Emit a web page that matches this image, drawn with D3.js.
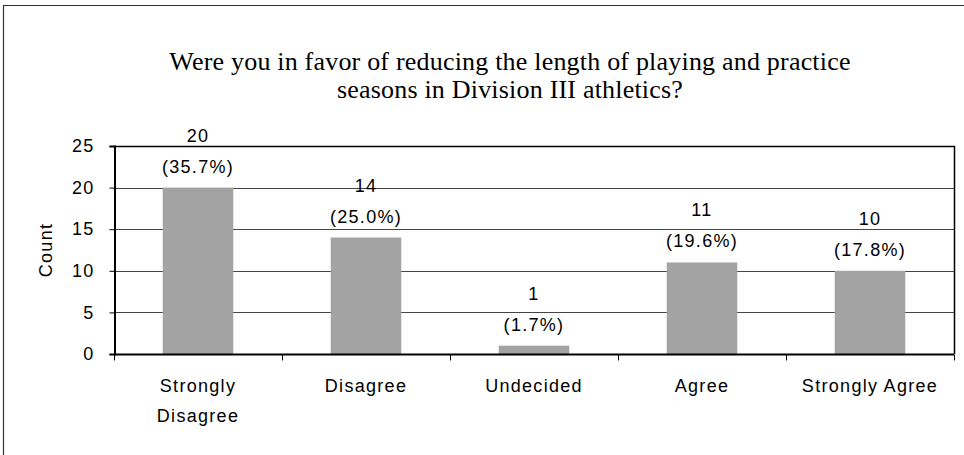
<!DOCTYPE html>
<html>
<head>
<meta charset="utf-8">
<script src="https://cdn.jsdelivr.net/npm/d3@7"></script>
<style>
  body { margin: 0; background: #fff; }
  text { font-family: "Liberation Sans", Arial, sans-serif; fill: #000; }
</style>
</head>
<body>
<script>
// data
const categories = ['Strongly Disagree', 'Disagree', 'Undecided', 'Agree', 'Strongly Agree'];
const counts = [20, 14, 1, 11, 10];
const percents = ['(35.7%)', '(25.0%)', '(1.7%)', '(19.6%)', '(17.8%)'];
const yTicks = [0, 5, 10, 15, 20, 25];
const titleLines = ['Were you in favor of reducing the length of playing and practice',
                    'seasons in Division III athletics?'];

const W = 964, H = 455;
const margin = {top: 146, right: 10, bottom: 101, left: 114};
const labelFont = '18px';
const labelSpacing = '1.3px';

const svg = d3.select('body').append('svg')
    .attr('width', W)
    .attr('height', H);

// scanned page frame
svg.append('path')
    .attr('d', `M3.5,${H} V5.5 H${W}`)
    .attr('fill', 'none')
    .attr('stroke', '#333')
    .attr('stroke-width', 1.2);

const x = d3.scaleBand()
    .domain(categories)
    .range([margin.left, W - margin.right])
    .paddingInner(0.58)
    .paddingOuter(0.29);

const y = d3.scaleLinear()
    .domain([0, 25])
    .range([H - margin.bottom, margin.top]);

// title
svg.append('g').selectAll('text')
    .data(titleLines)
    .enter()
  .append('text')
    .attr('x', 510)
    .attr('y', (d, i) => 70 + i * 28)
    .attr('text-anchor', 'middle')
    .style('font-family', '"Liberation Serif", "Times New Roman", serif')
    .style('font-size', '26px')
    .style('letter-spacing', '0.2px')
    .text(d => d);

// gridlines
svg.append('g').selectAll('line')
    .data(yTicks.filter(t => t > 0 && t < 25))
    .enter()
  .append('line')
    .attr('x1', margin.left)
    .attr('x2', W - margin.right)
    .attr('y1', d => Math.round(y(d)) + 0.5)
    .attr('y2', d => Math.round(y(d)) + 0.5)
    .attr('stroke', '#444')
    .attr('stroke-width', 1);

// plot area border (top + right)
svg.append('path')
    .attr('d', `M${margin.left},${y(25) + 0.5} H${W - margin.right + 0.5} V${y(0)}`)
    .attr('fill', 'none')
    .attr('stroke', '#000')
    .attr('stroke-width', 1.5);

// bars
svg.append('g').selectAll('rect')
    .data(counts)
    .enter()
  .append('rect')
    .attr('x', (d, i) => x(categories[i]))
    .attr('y', d => y(d))
    .attr('width', x.bandwidth())
    .attr('height', d => y(0) - y(d))
    .attr('fill', '#a3a3a3');

// y axis
const yAxis = svg.append('g')
    .attr('transform', `translate(${margin.left + 0.5},0)`)
    .call(d3.axisLeft(y).tickValues(yTicks).tickSize(5).tickPadding(15));
yAxis.selectAll('text')
    .style('font-size', labelFont)
    .style('letter-spacing', labelSpacing)
    .style('font-family', '"Liberation Sans", Arial, sans-serif');
yAxis.select('path').attr('stroke', '#000').attr('stroke-width', 2);
yAxis.selectAll('line').attr('stroke', '#000');

// x axis: ticks at category boundaries
const xAxisG = svg.append('g')
    .attr('transform', `translate(0,${Math.round(y(0)) + 0.5})`);
xAxisG.append('line')
    .attr('x1', margin.left)
    .attr('x2', W - margin.right)
    .attr('stroke', '#000')
    .attr('stroke-width', 2);
const step = x.step();
xAxisG.selectAll('.tk')
    .data(d3.range(categories.length + 1))
    .enter()
  .append('line')
    .attr('class', 'tk')
    .attr('x1', i => Math.round(margin.left + i * step) + 0.5)
    .attr('x2', i => Math.round(margin.left + i * step) + 0.5)
    .attr('y1', 0)
    .attr('y2', 6)
    .attr('stroke', '#000');

// category labels (wrap "Strongly Disagree")
const catLabels = svg.append('g').selectAll('text')
    .data(categories)
    .enter()
  .append('text')
    .attr('text-anchor', 'middle')
    .style('font-size', labelFont)
    .style('letter-spacing', labelSpacing)
    .attr('transform', d => `translate(${x(d) + x.bandwidth() / 2},392)`);
catLabels.each(function(d) {
    const lines = d === 'Strongly Disagree' ? ['Strongly', 'Disagree'] : [d];
    d3.select(this).selectAll('tspan')
        .data(lines)
        .enter()
      .append('tspan')
        .attr('x', 0)
        .attr('y', (l, i) => i * 30)
        .text(l => l);
});

// y axis title
svg.append('text')
    .attr('transform', `translate(52,${(y(0) + y(25)) / 2}) rotate(-90)`)
    .attr('text-anchor', 'middle')
    .style('font-size', labelFont)
    .style('letter-spacing', labelSpacing)
    .text('Count');

// value labels
const lab = svg.append('g').selectAll('g')
    .data(counts)
    .enter()
  .append('g')
    .attr('transform', (d, i) => `translate(${x(categories[i]) + x.bandwidth() / 2},${y(d)})`);
lab.append('text')
    .attr('y', -46)
    .attr('text-anchor', 'middle')
    .style('font-size', labelFont)
    .style('letter-spacing', labelSpacing)
    .text(d => d);
lab.append('text')
    .attr('y', -15)
    .attr('text-anchor', 'middle')
    .style('font-size', labelFont)
    .style('letter-spacing', labelSpacing)
    .text((d, i) => percents[i]);
</script>
</body>
</html>
